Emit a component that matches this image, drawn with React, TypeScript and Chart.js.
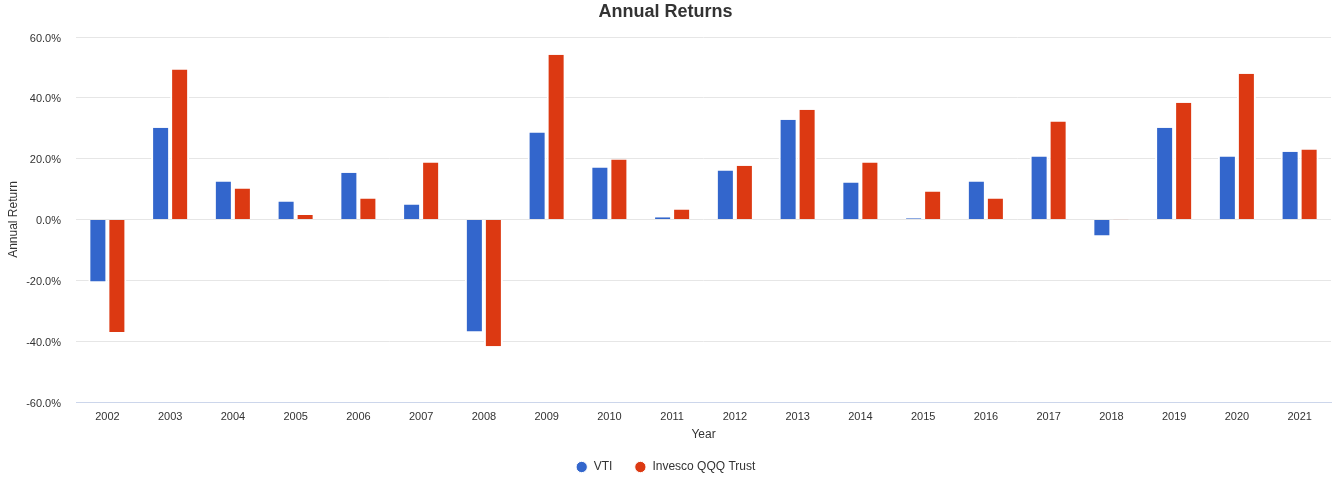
import React, { useEffect, useRef } from "react";
import { Chart, registerables } from "chart.js";

Chart.register(...registerables);

const years = [
  "2002", "2003", "2004", "2005", "2006", "2007", "2008", "2009", "2010", "2011",
  "2012", "2013", "2014", "2015", "2016", "2017", "2018", "2019", "2020", "2021",
];
const vtiReturns = [
  -20.4, 30.2, 12.5, 5.9, 15.4, 4.9, -36.8, 28.6, 17.1, 0.7,
  16.1, 32.8, 12.2, 0.4, 12.5, 20.7, -5.3, 30.2, 20.7, 22.3,
];
const qqqReturns = [
  -37.0, 49.3, 10.2, 1.5, 6.9, 18.7, -41.7, 54.2, 19.7, 3.3,
  17.7, 36.1, 18.7, 9.2, 6.9, 32.2, -0.1, 38.4, 47.9, 23.0,
];
const seriesNames = ["VTI", "Invesco QQQ Trust"];
const seriesColors = ["#3366cc", "#dc3912"];

const FONT = "'Liberation Sans', Arial, sans-serif";

export default function App() {
  const ref = useRef<HTMLCanvasElement | null>(null);

  useEffect(() => {
    if (!ref.current) return;
    const barBorder = { left: 2, right: 2, top: 0, bottom: 0 };
    const chart = new Chart(ref.current, {
      type: "bar",
      data: {
        labels: years,
        datasets: [
          {
            label: seriesNames[0],
            data: vtiReturns,
            backgroundColor: seriesColors[0],
            borderColor: "#ffffff",
            borderWidth: barBorder,
            borderSkipped: false,
            categoryPercentage: 0.606,
            barPercentage: 1.0,
          },
          {
            label: seriesNames[1],
            data: qqqReturns,
            backgroundColor: seriesColors[1],
            borderColor: "#ffffff",
            borderWidth: barBorder,
            borderSkipped: false,
            categoryPercentage: 0.606,
            barPercentage: 1.0,
          },
        ],
      },
      options: {
        responsive: false,
        animation: false,
        devicePixelRatio: 1,
        color: "#333333",
        font: { family: FONT },
        layout: { padding: { top: 0, right: 6, bottom: 4, left: 0 } },
        plugins: {
          title: {
            display: true,
            text: "Annual Returns",
            color: "#333333",
            font: { family: FONT, size: 18, weight: "bold" },
            padding: { top: 1, bottom: 14.4 },
          },
          legend: {
            display: true,
            position: "bottom",
            labels: {
              usePointStyle: true,
              pointStyle: "circle",
              boxWidth: 12,
              boxHeight: 8,
              padding: 22,
              color: "#333333",
              font: { family: FONT, size: 12 },
            },
          },
          tooltip: { enabled: false },
        },
        scales: {
          x: {
            grid: { display: false, drawTicks: false },
            border: { display: true, color: "#ccd6eb", width: 1 },
            ticks: {
              color: "#333333",
              font: { family: FONT, size: 11 },
              padding: 8,
              maxRotation: 0,
            },
            title: {
              display: true,
              text: "Year",
              color: "#333333",
              font: { family: FONT, size: 12 },
              padding: { top: 0, bottom: -2.5 },
            },
            afterFit: (scale: any) => {
              scale.height = 37;
            },
          },
          y: {
            min: -60,
            max: 60,
            grid: { color: "#e6e6e6", drawTicks: false },
            border: { display: false },
            ticks: {
              stepSize: 20,
              color: "#333333",
              font: { family: FONT, size: 11 },
              padding: 15,
              labelOffset: 1.5,
              callback: (v: any) => Number(v).toFixed(1) + "%",
            },
            title: {
              display: true,
              text: "Annual Return",
              color: "#333333",
              font: { family: FONT, size: 12 },
              padding: { top: 6, bottom: 2 },
            },
            afterFit: (scale: any) => {
              scale.width = 76;
            },
          },
        },
      },
    });
    return () => chart.destroy();
  }, []);

  return (
    <div style={{ position: "absolute", left: 0, top: 0, width: 1337, height: 487, background: "#fff" }}>
      <canvas ref={ref} width={1337} height={487} style={{ display: "block", width: 1337, height: 487 }} />
    </div>
  );
}
